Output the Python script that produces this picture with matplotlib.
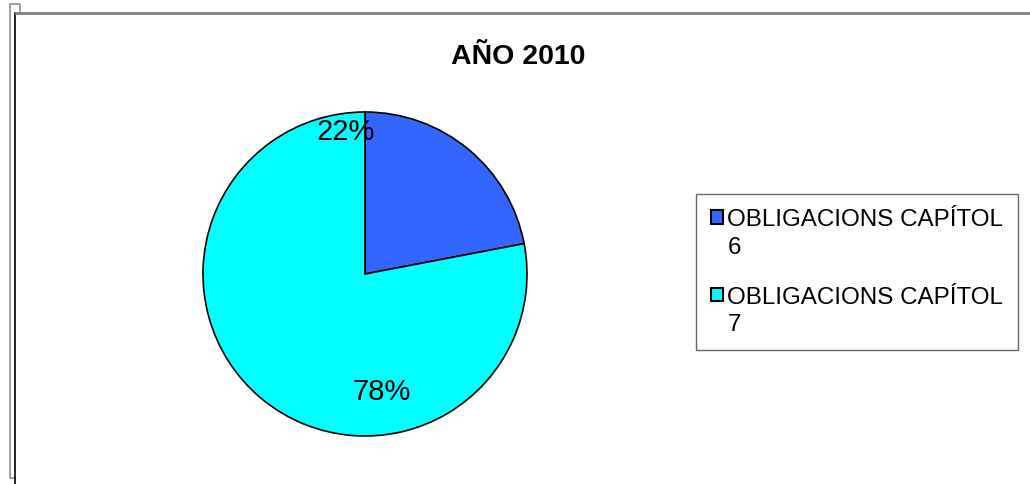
import matplotlib.pyplot as plt
from matplotlib.lines import Line2D
from matplotlib.patches import Patch, Rectangle
from matplotlib.legend_handler import HandlerPatch

plt.rcParams['font.family'] = ['Liberation Sans', 'DejaVu Sans']

categories = ['OBLIGACIONS CAPÍTOL\n6', 'OBLIGACIONS CAPÍTOL\n7']
values = [22, 78]
colors = ['#3366FF', '#00FFFF']
title = 'AÑO 2010'

W, H = 1030, 485
fig = plt.figure(figsize=(W / 100, H / 100), dpi=100)


def fx(px):
    return px / W


def fy(py):
    return 1 - py / H


# marco del grafico
fig.add_artist(Line2D([fx(20), fx(20), fx(10), fx(10), fx(15)],
                      [fy(14), fy(5), fy(5), fy(479), fy(479)],
                      color='#909090', lw=1.2))
fig.add_artist(Line2D([fx(15), fx(15)], [fy(14), fy(485)], color='black', lw=1.2))
fig.add_artist(Line2D([fx(16), fx(1030)], [fy(14), fy(14)], color='#808080', lw=2))

# pastel
cx, cy, r = 365, 275, 162
ax = fig.add_axes([fx(cx - r), fy(cy + r), 2 * r / W, 2 * r / H])
wedges, texts, autotexts = ax.pie(values, colors=colors, startangle=90, counterclock=False,
                                  autopct='%1.0f%%',
                                  wedgeprops=dict(edgecolor='black', linewidth=1.2),
                                  textprops=dict(fontsize=21, color='black'))
autotexts[0].set_position((-0.12, 0.88))
autotexts[1].set_position((0.10, -0.72))
ax.set_xlim(-1, 1)
ax.set_ylim(-1, 1)
ax.set_aspect('equal')
ax.axis('off')

fig.text(fx(518), fy(57), title, ha='center', va='center', fontsize=20.5, fontweight='bold')


# cuadrito de la leyenda alineado con la primera linea
def top_square(legend, orig_handle, xdescent, ydescent, width, height, fontsize):
    return Rectangle((-xdescent, -ydescent + 0.66 * fontsize), width, height)


handles = [Patch(facecolor=c, edgecolor='black', linewidth=1.5) for c in colors]
leg = fig.legend(handles, categories, loc='upper left',
                 bbox_to_anchor=(fx(696), fy(195)),
                 fontsize=17.4, frameon=True, fancybox=False,
                 handlelength=0.5, handleheight=0.5, handletextpad=0.2,
                 labelspacing=1.15, borderpad=0.6, borderaxespad=0,
                 handler_map={Patch: HandlerPatch(patch_func=top_square)})
leg.get_frame().set_edgecolor('#404040')
leg.get_frame().set_linewidth(1)
for t in leg.get_texts():
    t.set_linespacing(1.32)

fig.savefig('out.png', dpi=100)
